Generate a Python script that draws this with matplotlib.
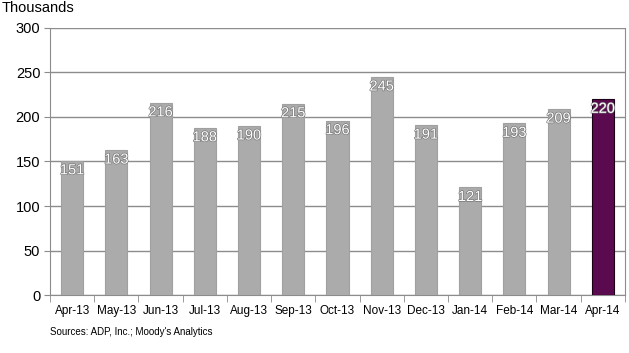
import numpy as np
import matplotlib
matplotlib.use("Agg")
import matplotlib.pyplot as plt
import matplotlib.patheffects as pe

plt.rcParams["font.family"] = ["Liberation Sans", "DejaVu Sans"]

months = ["Apr-13", "May-13", "Jun-13", "Jul-13", "Aug-13", "Sep-13", "Oct-13",
          "Nov-13", "Dec-13", "Jan-14", "Feb-14", "Mar-14", "Apr-14"]
jobs = [151, 163, 216, 188, 190, 215, 196, 245, 191, 121, 193, 209, 220]
yticks = [0, 50, 100, 150, 200, 250, 300]

fig = plt.figure(figsize=(6.29, 3.53), dpi=100)
ax = fig.add_axes([0.0795, 0.164, 0.914, 0.757])

x = np.arange(len(months))
colors = ["#ababab"] * (len(months) - 1) + ["#5c0a50"]
edges = ["#a0a0a0"] * (len(months) - 1) + ["#1a0016"]
ax.bar(x, jobs, width=0.5, color=colors, edgecolor=edges, linewidth=0.8, zorder=3)

for xi, v in zip(x, jobs):
    ax.text(xi, v - 3, str(v), ha="center", va="top", fontsize=10.5, color="white",
            zorder=4, path_effects=[pe.withStroke(linewidth=0.9, foreground="#707070")])

ax.set_xlim(-0.5, len(months) - 0.5)
ax.set_ylim(0, 300)
ax.set_yticks(yticks)
ax.set_yticklabels([str(t) for t in yticks], fontsize=10.5)
ax.yaxis.grid(True, color="#8c8c8c", linewidth=1, zorder=0)
ax.tick_params(axis="y", length=4, color="#8c8c8c", pad=3)

# category labels in the middle, tick marks on the boundaries
ax.set_xticks(x)
ax.set_xticklabels(months, fontsize=8.5)
ax.tick_params(axis="x", length=0, pad=7)
ax.set_xticks(np.arange(len(months) + 1) - 0.5, minor=True)
ax.tick_params(axis="x", which="minor", length=5, color="#8c8c8c", direction="out")

for side in ["left", "right", "bottom"]:
    ax.spines[side].set_color("#8c8c8c")
ax.spines["top"].set_visible(False)

fig.text(0.003, 0.965, "Thousands", fontsize=10.5)
fig.text(0.08, 0.05, "Sources: ADP, Inc.; Moody's Analytics", fontsize=7)

fig.savefig("out.png", dpi=100)
